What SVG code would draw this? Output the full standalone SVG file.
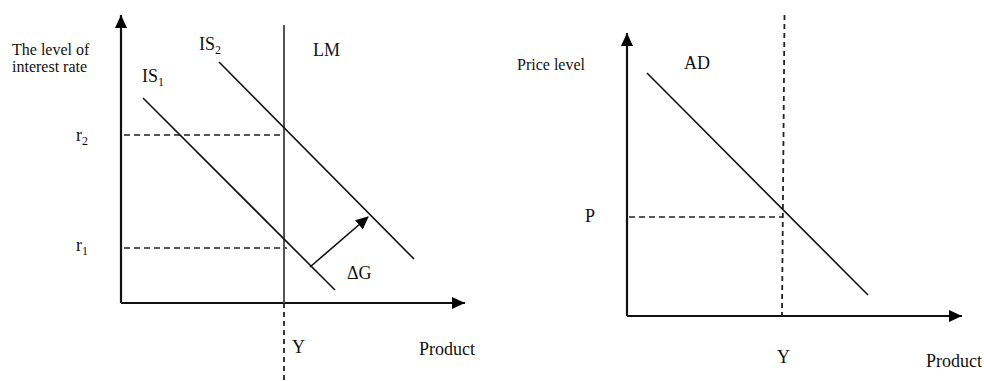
<svg xmlns="http://www.w3.org/2000/svg" width="984" height="381" viewBox="0 0 984 381">
<defs>
<marker id="arr" markerWidth="13" markerHeight="12" refX="12" refY="6" orient="auto" markerUnits="userSpaceOnUse" viewBox="0 0 13 12">
<path d="M0,0 L13,6 L0,12 z" fill="#000"/>
</marker>
<marker id="arrBig" markerWidth="13" markerHeight="12" refX="13" refY="6" orient="auto" markerUnits="userSpaceOnUse" viewBox="0 0 13 12">
<path d="M0,0 L13,6 L0,12 z" fill="#000"/>
</marker>
</defs>
<style>
text{font-family:"Liberation Serif","Times New Roman",serif;fill:#111}
.ax{font-size:16px}
.lb{font-size:18px}
.sub{font-size:12px}
.axis{stroke:#111;stroke-width:2.2;fill:none}
.curve{stroke:#111;stroke-width:1.6;fill:none}
.lm{stroke:#555;stroke-width:2;fill:none}
.dash{stroke:#222;stroke-width:1.6;fill:none;stroke-dasharray:6 4}
.vdash{stroke:#222;stroke-width:1.8;fill:none;stroke-dasharray:5 4}
</style>
<g id="connectors">
<path class="axis" d="M121,303 L121,15" marker-end="url(#arrBig)"/>
<path class="axis" d="M121,303 L465,303" marker-end="url(#arrBig)"/>
<path class="axis" d="M627,316 L627,33" marker-end="url(#arrBig)"/>
<path class="axis" d="M627,316 L962,316" marker-end="url(#arrBig)"/>
<path class="dash" d="M124,135 L283,135"/>
<path class="dash" d="M124,248 L287,248"/>
<path class="vdash" d="M284,303 L284,381"/>
<path class="dash" d="M629,217 L782,217"/>
<path class="vdash" d="M784.5,15 L782,316"/>
<path class="curve" d="M310,267 L368,217" stroke-width="2.4" marker-end="url(#arr)"/>
</g>
<g id="LM">
<path class="lm" d="M284,25 L284,303"/>
<text class="lb" x="313" y="56">LM</text>
</g>
<g id="IS1">
<path class="curve" d="M143,98 L335,290"/>
<text class="lb" x="142" y="82">IS<tspan class="sub" dy="4">1</tspan></text>
</g>
<g id="IS2">
<path class="curve" d="M219,62 L414,259"/>
<text class="lb" x="199" y="50">IS<tspan class="sub" dy="4">2</tspan></text>
</g>
<g id="AD">
<path class="curve" d="M647,73 L868,295"/>
<text class="lb" x="684" y="69">AD</text>
</g>
<g id="labels">
<text class="ax" x="12" y="55">The level of</text>
<text class="ax" x="12" y="72">interest rate</text>
<text class="lb" x="76" y="141">r<tspan class="sub" dy="4">2</tspan></text>
<text class="lb" x="76" y="251">r<tspan class="sub" dy="4">1</tspan></text>
<text class="lb" x="347" y="279">ΔG</text>
<text class="lb" x="292" y="353">Y</text>
<text class="lb" x="419" y="355">Product</text>
<text class="ax" x="517" y="70">Price level</text>
<text class="lb" x="585" y="222">P</text>
<text class="lb" x="777" y="363">Y</text>
<text class="lb" x="926" y="367">Product</text>
</g>
</svg>
